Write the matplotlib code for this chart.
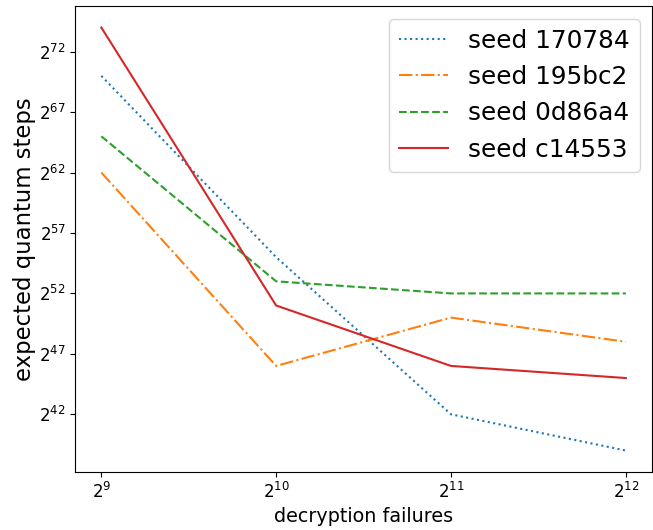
import matplotlib
matplotlib.use('Agg')
from matplotlib import pyplot as plt

# exponents (log2 of values)
failures_exp = [9, 10, 11, 12]
seed_names = ['seed 170784', 'seed 195bc2', 'seed 0d86a4', 'seed c14553']
steps_170784 = [70, 55, 42, 39]
steps_195bc2 = [62, 46, 50, 48]
steps_0d86a4 = [65, 53, 52, 52]
steps_c14553 = [74, 51, 46, 45]
ytick_exp = [42, 47, 52, 57, 62, 67, 72]

x = [2.0 ** e for e in failures_exp]
series = [steps_170784, steps_195bc2, steps_0d86a4, steps_c14553]
styles = [':', '-.', '--', '-']
colors = ['tab:blue', 'tab:orange', 'tab:green', 'tab:red']

fig = plt.figure(figsize=(6.53, 5.30), dpi=100)
ax = fig.add_subplot(111)
fig.subplots_adjust(left=0.115, right=0.9985, top=0.988, bottom=0.110)

for name, s, ls, c in zip(seed_names, series, styles, colors):
    ax.plot(x, [2.0 ** e for e in s], ls, color=c, label=name, linewidth=1.5)

ax.set_xscale('log', base=2)
ax.set_yscale('log', base=2)
ax.set_xticks(x)
ax.set_yticks([2.0 ** e for e in ytick_exp])
ax.tick_params(labelsize=12)
ax.set_xlabel('decryption failures', fontsize=13.8)
ax.set_ylabel('expected quantum steps', fontsize=16.4, labelpad=2)
ax.legend(loc='upper right', fontsize=17.8)

plt.savefig('out.png', dpi=100)
